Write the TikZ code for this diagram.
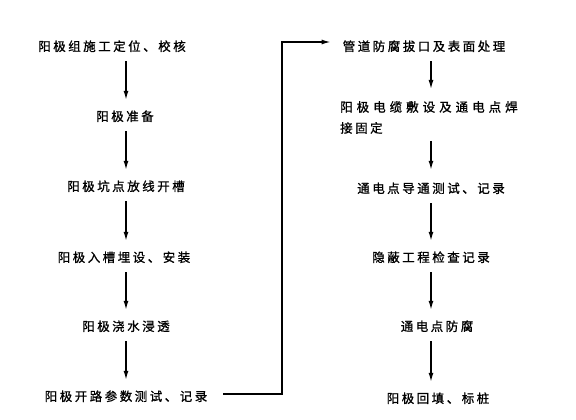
\documentclass[tikz,border=0pt]{standalone}
\usepackage{fontspec}
\setmainfont{Noto Sans CJK SC}[LetterSpace=20,FakeBold=1]
\usetikzlibrary{arrows.meta}
\begin{document}
\begin{tikzpicture}[x=1pt,y=-1pt,
  lbl/.style={font=\fontsize{12.5}{21}\selectfont, inner xsep=0pt, inner ysep=0pt, text height=9pt, text depth=3pt},
  arr/.style={line width=1.3pt, -{Latex[length=9pt,width=5pt]}, shorten <=7pt, shorten >=12pt},
  conn/.style={line width=1.3pt, -{Latex[length=9pt,width=5pt]}}]
\useasboundingbox (0,0) rectangle (576,420);
% left column
\coordinate (cl) at (126,0);
\node[lbl] (l1) at (112,48) {阳极组施工定位、校核};
\node[lbl] (l2) at (125,118) {阳极准备};
\node[lbl] (l3) at (126,188) {阳极坑点放线开槽};
\node[lbl] (l4) at (124,259) {阳极入槽埋设、安装};
\node[lbl] (l5) at (126,328) {阳极浇水浸透};
\node[lbl] (l6) at (126,398) {阳极开路参数测试、记录};
\draw[arr] (l1.south -| cl) -- (l2.north -| cl);
\draw[arr] (l2.south -| cl) -- (l3.north -| cl);
\draw[arr] (l3.south -| cl) -- (l4.north -| cl);
\draw[arr] (l4.south -| cl) -- (l5.north -| cl);
\draw[arr] (l5.south -| cl) -- (l6.north -| cl);
% right column
\coordinate (cr) at (431,0);
\node[lbl] (r1) at (424,48) {管道防腐拔口及表面处理};
\node[font=\fontsize{12.5}{21}\selectfont, inner sep=0pt, align=left, anchor=north west] (r2) at (340,101) {\addfontfeature{LetterSpace=32}阳极电缆敷设及通电点焊\\接固定};
\node[lbl] (r3) at (431,190) {通电点导通测试、记录};
\node[lbl] (r4) at (431,259) {隐蔽工程检查记录};
\node[lbl] (r5) at (437,328) {通电点防腐};
\node[lbl] (r6) at (438,400) {阳极回填、标桩};
\draw[arr] (r1.south -| cr) -- (r2.north -| cr);
\draw[arr, shorten >=14pt] (r2.south -| cr) -- (r3.north -| cr);
\draw[arr] (r3.south -| cr) -- (r4.north -| cr);
\draw[arr] (r4.south -| cr) -- (r5.north -| cr);
\draw[arr] (r5.south -| cr) -- (r6.north -| cr);
% link between columns
\coordinate (turn) at (282,42);
\draw[conn, shorten <=16pt, shorten >=12pt] ([yshift=4pt]l6.east) -| (turn) -- (turn -| r1.west);
\end{tikzpicture}
\end{document}
